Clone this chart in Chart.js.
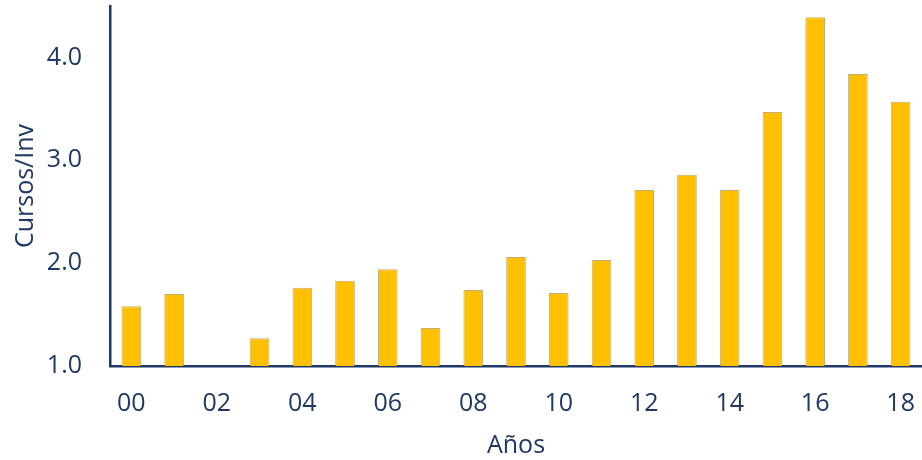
<!DOCTYPE html>
<html>
<head>
<meta charset="utf-8">
<script src="https://cdn.jsdelivr.net/npm/chart.js@4"></script>
<style>
  html, body { margin: 0; padding: 0; background: #fff; }
  #wrap { width: 922px; height: 460px; }
</style>
</head>
<body>
<div id="wrap"><canvas id="cursosChart"></canvas></div>
<script>
// Cursos por investigador, por año
const years = ['00', '01', '02', '03', '04', '05', '06', '07', '08', '09',
               '10', '11', '12', '13', '14', '15', '16', '17', '18'];
const cursosInv = [1.58, 1.70, null, 1.27, 1.76, 1.83, 1.94, 1.37, 1.74, 2.06,
                   1.71, 2.03, 2.71, 2.86, 2.71, 3.47, 4.39, 3.84, 3.57];
const yTicks = [1, 2, 3, 4];

const navy = '#1F3864';
const font = { family: "'Open Sans', sans-serif", size: 25 };
const titleFont = { family: "'Open Sans', sans-serif", size: 25, lineHeight: 1 };

// fixed axis box sizes, no extra label overhang padding
function fixBox(size) {
    return s => {
        if (s.isHorizontal()) s.height = size; else s.width = size;
        s.paddingTop = 0;
        s.paddingBottom = 0;
        s.paddingLeft = 0;
        s.paddingRight = 0;
    };
}

const cursosChart = new Chart(document.getElementById('cursosChart'), {
    type: 'bar',
    data: {
        labels: years,
        datasets: [{
            label: 'Cursos/Inv',
            data: cursosInv,
            backgroundColor: '#FFC000',
            borderColor: 'rgba(170,140,60,0.7)',
            borderWidth: 1,
            categoryPercentage: 1,
            barPercentage: 0.46
        }]
    },
    options: {
        responsive: true,
        maintainAspectRatio: false,
        animation: false,
        layout: { padding: { top: 6, right: 0, left: 0, bottom: 0 } },
        plugins: {
            legend: { display: false },
            tooltip: { enabled: false }
        },
        scales: {
            x: {
                afterFit: fixBox(94),
                grid: { drawOnChartArea: false, drawTicks: false },
                border: { color: navy, width: 2.5 },
                ticks: {
                    autoSkip: false,
                    maxRotation: 0,
                    padding: 23,
                    color: navy,
                    font: font,
                    callback: (v, i) => (i % 2 === 0 ? years[i] : '')
                },
                title: {
                    display: true,
                    text: 'Años',
                    color: navy,
                    font: titleFont,
                    padding: { top: 0, bottom: 2 }
                }
            },
            y: {
                min: 1,
                max: 4.5,
                afterFit: fixBox(110),
                afterBuildTicks: s => { s.ticks = yTicks.map(v => ({ value: v })); },
                grid: { drawOnChartArea: false, drawTicks: false },
                border: { color: navy, width: 2.5 },
                ticks: {
                    padding: 28,
                    color: navy,
                    font: font,
                    callback: v => v.toFixed(1)
                },
                title: {
                    display: true,
                    text: 'Cursos/Inv',
                    color: navy,
                    font: titleFont,
                    padding: { top: 13, bottom: 0 }
                }
            }
        }
    }
});
</script>
</body>
</html>
